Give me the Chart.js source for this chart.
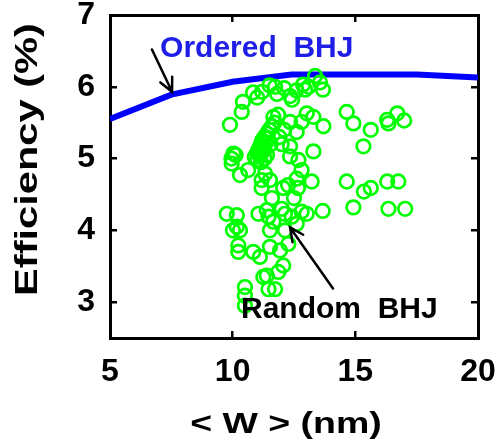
<!DOCTYPE html>
<html>
<head>
<meta charset="utf-8">
<title>Efficiency vs W</title>
<script src="https://cdn.jsdelivr.net/npm/chart.js@4"></script>
<style>
    body { margin: 0; background: #fff; }
</style>
</head>
<body>
<canvas id="effChart" width="498" height="441"></canvas>
<script>
// Ordered BHJ curve
const orderedW = [5, 7.5, 10, 12.4, 17.5, 20];
const orderedEff = [5.55, 5.89, 6.07, 6.17, 6.17, 6.13];

// Random BHJ samples
const randomW = [
    10.42, 10.83, 11.20, 11.73, 11.81, 12.34, 12.42, 12.87, 12.95, 13.36, 13.56, 13.68, 11.50, 12.10, 11.00, 13.10, 12.60,
    9.89, 10.37, 10.03, 9.96, 10.30, 10.63, 9.95, 10.12,
    10.90, 11.00, 11.05, 11.10, 11.10, 11.15, 11.20, 11.20, 11.25, 11.30, 11.30, 11.35, 11.40, 11.40, 11.45, 11.50, 11.55, 11.60, 11.70, 11.00, 11.15, 11.30,
    11.66, 11.85, 12.34, 12.81, 13.02, 13.29, 13.70, 12.61, 12.34, 12.34, 12.68, 12.81, 12.61, 13.22, 13.29, 12.06, 12.26, 12.66, 11.18, 11.32, 11.18, 11.52, 11.90, 12.10, 12.00, 12.50, 11.60,
    14.65, 14.92, 15.63, 15.33, 16.30, 16.35, 16.71, 16.99, 14.65, 15.35, 15.63, 16.30, 16.75, 14.92, 16.35, 17.03, 13.67,
    9.76, 10.17, 10.17, 10.30, 10.01, 11.05, 11.39, 11.46, 12.00, 12.13, 12.41, 12.81, 13.02, 12.61, 12.13, 11.66, 11.52,
    10.23, 10.23, 10.84, 11.11, 11.52, 11.93, 12.27, 12.06, 11.86, 11.39, 11.25, 11.46, 11.73, 10.50, 10.50, 10.50
];
const randomEff = [
    5.79, 5.92, 5.93, 6.00, 5.90, 5.87, 5.82, 6.03, 5.96, 6.15, 6.06, 5.96, 6.02, 5.98, 5.85, 6.00, 5.95,
    5.47, 5.65, 5.07, 4.93, 4.77, 4.84, 5.00, 5.05,
    5.02, 5.08, 5.12, 5.15, 5.05, 5.20, 5.10, 5.25, 5.18, 5.30, 5.12, 5.22, 5.35, 5.05, 5.28, 5.40, 5.20, 5.45, 5.50, 4.98, 4.95, 5.00,
    5.58, 5.61, 5.51, 5.51, 5.63, 5.58, 5.45, 5.37, 5.17, 5.03, 4.98, 4.84, 4.72, 4.68, 5.10, 4.59, 4.63, 4.59, 4.70, 4.79, 4.59, 4.70, 5.30, 5.40, 5.20, 4.45, 4.45,
    5.65, 5.49, 5.40, 5.17, 5.54, 5.49, 5.63, 5.53, 4.68, 4.54, 4.59, 4.68, 4.68, 4.32, 4.30, 4.30, 4.27,
    4.23, 4.21, 4.05, 4.00, 4.00, 4.23, 4.28, 4.19, 4.30, 4.23, 4.19, 4.26, 4.23, 4.09, 4.00, 4.12, 4.00,
    3.79, 3.70, 3.70, 3.63, 3.77, 3.72, 3.81, 3.51, 3.42, 3.37, 3.35, 3.18, 3.18, 3.21, 3.09, 2.95
];

const xTicks = [5, 10, 15, 20];
const yTicks = [3, 4, 5, 6, 7];

const FONT = '"Liberation Sans", Arial, sans-serif';

// Text notes and arrows, placed in data units
const notes = [
    { text: 'Ordered  BHJ', w: 7.04, eff: 6.42, color: '#1e1ee6' },
    { text: 'Random  BHJ', w: 10.34, eff: 2.78, color: '#000' }
];
const arrows = [
    { from: [6.71, 6.52], to: [7.53, 5.93] },
    { from: [14.09, 3.19], to: [12.34, 4.04] }
];

const toPoints = (xs, ys) => xs.map((x, i) => ({ x: x, y: ys[i] }));

const annotationPlugin = {
    id: 'notes',
    afterDatasetsDraw(chart) {
        const ctx = chart.ctx;
        const sx = chart.scales.x;
        const sy = chart.scales.y;
        ctx.save();

        // arrows with open heads
        ctx.strokeStyle = '#000';
        ctx.lineWidth = 2.5;
        ctx.lineCap = 'round';
        arrows.forEach(a => {
            const x1 = sx.getPixelForValue(a.from[0]), y1 = sy.getPixelForValue(a.from[1]);
            const x2 = sx.getPixelForValue(a.to[0]), y2 = sy.getPixelForValue(a.to[1]);
            const ang = Math.atan2(y2 - y1, x2 - x1);
            const head = 15;
            ctx.beginPath();
            ctx.moveTo(x1, y1);
            ctx.lineTo(x2, y2);
            ctx.moveTo(x2 - head * Math.cos(ang - 0.45), y2 - head * Math.sin(ang - 0.45));
            ctx.lineTo(x2, y2);
            ctx.lineTo(x2 - head * Math.cos(ang + 0.45), y2 - head * Math.sin(ang + 0.45));
            ctx.stroke();
        });

        ctx.font = 'bold 30px ' + FONT;
        ctx.textAlign = 'left';
        ctx.textBaseline = 'alphabetic';
        notes.forEach(n => {
            ctx.fillStyle = n.color;
            ctx.fillText(n.text, sx.getPixelForValue(n.w), sy.getPixelForValue(n.eff));
        });
        ctx.restore();
    }
};

// Axis titles, drawn with slightly widened lettering
const axisTitlePlugin = {
    id: 'axisTitles',
    afterDraw(chart) {
        const ctx = chart.ctx;
        const area = chart.chartArea;
        ctx.save();
        ctx.fillStyle = '#000';
        ctx.textAlign = 'center';
        ctx.textBaseline = 'middle';

        ctx.font = 'bold 30px ' + FONT;
        ctx.save();
        ctx.translate((area.left + area.right) / 2 - 8, chart.height - 16);
        ctx.scale(1.25, 1);
        ctx.fillText('< W > (nm)', 0, 0);
        ctx.restore();

        ctx.font = 'bold 32px ' + FONT;
        ctx.save();
        ctx.translate(28, (area.top + area.bottom) / 2 - 17);
        ctx.rotate(-Math.PI / 2);
        ctx.scale(1.3, 1);
        ctx.fillText('Efficiency (%)', 0, 0);
        ctx.restore();

        ctx.restore();
    }
};

function frameAxis(axis, position, min, max, tickValues, showLabels, size) {
    return {
        type: 'linear',
        axis: axis,
        position: position,
        min: min,
        max: max,
        afterBuildTicks: scale => { scale.ticks = tickValues.map(v => ({ value: v })); },
        afterFit: scale => {
            if (axis === 'x') scale.height = size; else scale.width = size;
            scale.paddingTop = scale.paddingBottom = scale.paddingLeft = scale.paddingRight = 0;
        },
        grid: {
            drawOnChartArea: false,
            drawTicks: true,
            tickLength: -7,
            color: '#000',
            lineWidth: 2.5
        },
        border: { color: '#000', width: 3 },
        ticks: {
            display: showLabels,
            color: '#000',
            font: { family: FONT, size: 32, weight: 'bold' },
            padding: 22,
            maxRotation: 0,
            autoSkip: false
        }
    };
}

new Chart(document.getElementById('effChart'), {
    type: 'scatter',
    data: {
        datasets: [
            {
                label: 'Random BHJ',
                data: toPoints(randomW, randomEff),
                pointStyle: 'circle',
                pointRadius: 6.8,
                pointBorderWidth: 2.7,
                pointBorderColor: '#00ff00',
                pointBackgroundColor: 'rgba(0,0,0,0)',
                order: 0
            },
            {
                label: 'Ordered BHJ',
                data: toPoints(orderedW, orderedEff),
                showLine: true,
                borderColor: '#0000ff',
                borderWidth: 6,
                pointRadius: 0,
                tension: 0,
                order: 1
            }
        ]
    },
    options: {
        responsive: false,
        animation: false,
        devicePixelRatio: 1,
        layout: { padding: 0, autoPadding: false },
        plugins: {
            legend: { display: false },
            tooltip: { enabled: false }
        },
        scales: {
            x: frameAxis('x', 'bottom', 5, 20, xTicks, true, 103),
            x2: frameAxis('x', 'top', 5, 20, xTicks, false, 15),
            y: frameAxis('y', 'left', 2.5, 7, yTicks, true, 110),
            y2: frameAxis('y', 'right', 2.5, 7, yTicks, false, 20)
        }
    },
    plugins: [annotationPlugin, axisTitlePlugin]
});
</script>
</body>
</html>
